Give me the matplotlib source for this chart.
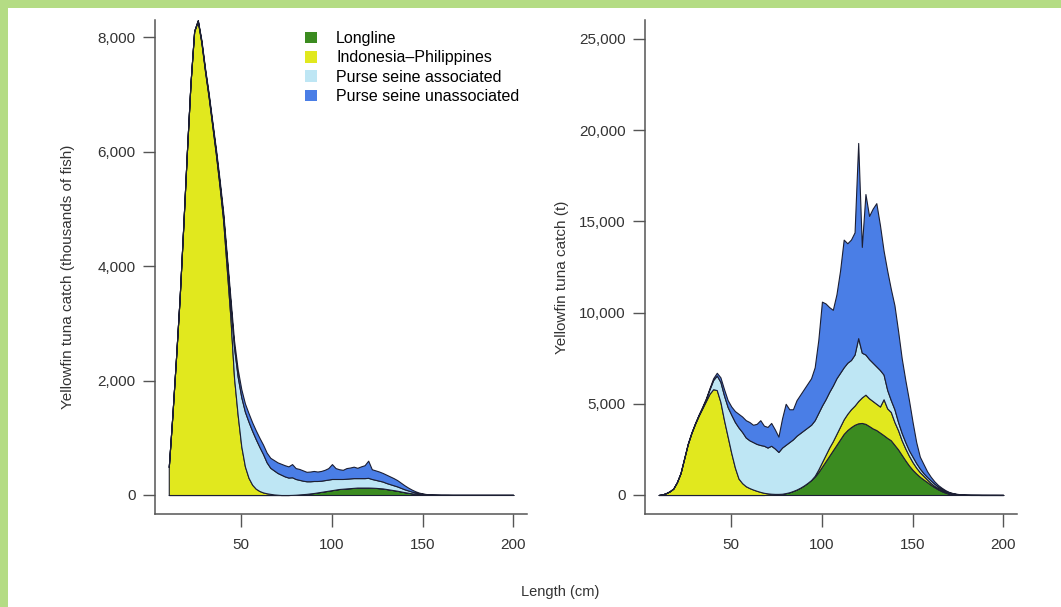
import numpy as np
import matplotlib.pyplot as plt
from matplotlib.patches import Patch, Rectangle
from matplotlib.ticker import FuncFormatter

plt.rcParams['font.family'] = ['Liberation Sans', 'DejaVu Sans']

# length bins (cm), 2 cm wide
length = np.arange(10, 202, 2)

# left panel: catch in thousands of fish
left_longline = [
    0, 0, 0, 0, 0, 0, 0, 0, 0, 0,
    0, 0, 0, 0, 0, 0, 0, 0, 0, 0,
    0, 0, 0, 0, 0, 0, 0, 0, 0, 0,
    0, 0, 0, 0, 2, 5, 10, 15, 20, 28,
    35, 45, 55, 65, 75, 85, 95, 105, 110, 115,
    120, 125, 130, 130, 130, 130, 128, 125, 120, 115,
    105, 95, 85, 75, 62, 50, 40, 30, 22, 16,
    11, 7, 5, 3, 2, 1, 1, 1, 1, 1,
    1, 1, 1, 1, 1, 1, 1, 1, 1, 1,
    1, 1, 1, 1, 1, 1]
left_indo = [
    490, 1400, 2400, 3450, 4700, 6000, 7200, 8100, 8280, 7900,
    7400, 6950, 6450, 5950, 5400, 4800, 3950, 3100, 2050, 1400,
    850, 500, 300, 180, 110, 70, 45, 30, 20, 10,
    5, 0, 0, 0, 0, 0, 0, 0, 0, 0,
    0, 0, 0, 0, 0, 0, 0, 0, 0, 0,
    0, 0, 0, 0, 0, 0, 0, 0, 0, 0,
    0, 0, 0, 0, 0, 0, 0, 0, 0, 0,
    0, 0, 0, 0, 0, 0, 0, 0, 0, 0,
    0, 0, 0, 0, 0, 0, 0, 0, 0, 0,
    0, 0, 0, 0, 0, 0]
left_assoc = [
    0, 0, 0, 0, 0, 0, 5, 5, 10, 25,
    30, 35, 40, 50, 60, 80, 170, 250, 530, 670,
    860, 955, 980, 940, 865, 770, 670, 540, 455, 420,
    380, 355, 325, 305, 308, 275, 255, 235, 220, 212,
    210, 200, 195, 195, 195, 195, 185, 175, 170, 170,
    170, 170, 165, 165, 165, 170, 152, 140, 130, 120,
    105, 95, 85, 75, 63, 50, 40, 30, 21, 14,
    9, 6, 3, 2, 1, 1, 1, 1, 0, 0,
    0, 0, 0, 0, 0, 0, 0, 0, 0, 0,
    0, 0, 0, 0, 0, 0]
left_unassoc = [
    0, 0, 0, 0, 0, 0, 5, 5, 10, 25,
    30, 35, 40, 50, 60, 70, 80, 100, 120, 130,
    140, 145, 150, 150, 155, 160, 165, 170, 175, 180,
    185, 190, 195, 195, 230, 190, 190, 180, 165, 170,
    175, 165, 170, 180, 200, 260, 190, 170, 160, 185,
    190, 200, 180, 205, 225, 300, 170, 165, 160, 150,
    145, 135, 125, 110, 90, 70, 50, 35, 22, 12,
    7, 4, 2, 1, 1, 1, 1, 0, 0, 0,
    0, 0, 0, 0, 0, 0, 0, 0, 0, 0,
    0, 0, 0, 0, 0, 0]

# right panel: catch in tonnes
right_longline = [
    0, 0, 0, 0, 0, 0, 0, 0, 0, 0,
    0, 0, 0, 0, 0, 0, 0, 0, 0, 0,
    0, 0, 0, 0, 0, 0, 0, 0, 0, 0,
    10, 20, 30, 40, 60, 100, 150, 220, 300, 400,
    520, 660, 820, 1000, 1250, 1550, 1850, 2150, 2450, 2750,
    3050, 3350, 3560, 3720, 3850, 3930, 3950, 3900, 3780, 3650,
    3560, 3420, 3280, 3130, 3000, 2750, 2500, 2200, 1900, 1620,
    1380, 1180, 1000, 850, 710, 560, 430, 310, 210, 130,
    70, 35, 20, 10, 5, 3, 2, 2, 2, 1,
    1, 1, 1, 1, 1, 1]
right_indo = [
    0, 30, 100, 200, 350, 700, 1200, 2000, 2800, 3400,
    3900, 4350, 4750, 5150, 5550, 5800, 5750, 5100, 4100, 3200,
    2300, 1500, 900, 650, 480, 380, 300, 230, 170, 120,
    80, 50, 30, 20, 10, 5, 0, 0, 0, 0,
    0, 0, 0, 50, 150, 250, 350, 450, 500, 600,
    700, 800, 890, 980, 1050, 1220, 1400, 1600, 1520, 1500,
    1440, 1430, 1970, 1620, 1550, 1250, 1050, 800, 650, 530,
    420, 320, 250, 200, 140, 100, 70, 70, 50, 40,
    20, 10, 5, 2, 1, 0, 0, 0, 0, 0,
    0, 0, 0, 0, 0, 0]
right_assoc = [
    0, 0, 0, 0, 0, 0, 0, 0, 0, 10,
    20, 30, 50, 100, 250, 500, 800, 1100, 1350, 1620,
    2100, 2500, 2800, 2800, 2670, 2620, 2600, 2570, 2570, 2580,
    2510, 2630, 2490, 2300, 2530, 2645, 2750, 2830, 2950, 3000,
    3030, 3040, 3030, 3050, 3100, 3100, 3050, 3050, 3050, 3050,
    2950, 2850, 2800, 2700, 2800, 3450, 2450, 2200, 2150, 2100,
    2050, 2000, 1350, 1010, 650, 700, 450, 400, 350, 300,
    300, 250, 200, 150, 140, 140, 120, 80, 70, 50,
    50, 45, 30, 23, 14, 9, 6, 5, 4, 3,
    3, 2, 2, 2, 1, 1]
right_unassoc = [
    0, 0, 0, 0, 0, 0, 0, 0, 0, 10,
    20, 30, 40, 50, 60, 100, 150, 250, 350, 380,
    450, 600, 750, 850, 950, 1000, 950, 1100, 1360, 1100,
    1130, 1250, 1050, 840, 1600, 2250, 1800, 1650, 1950, 2100,
    2250, 2400, 2550, 2900, 4000, 5700, 5250, 4650, 4150, 4600,
    5600, 7000, 6550, 6600, 6700, 10700, 5800, 8800, 7850, 8450,
    8950, 7950, 6800, 6540, 6100, 5700, 5000, 4100, 3400, 2750,
    1900, 1150, 650, 500, 310, 200, 130, 90, 70, 50,
    30, 20, 15, 10, 10, 8, 5, 4, 3, 3,
    2, 2, 2, 1, 1, 1]

series_labels = ['Longline', 'Indonesia\u2013Philippines',
                 'Purse seine associated', 'Purse seine unassociated']
colors = ['#3b8b20', '#e1e81e', '#bee6f4', '#4a7ee6']
edge = '#1c1f33'

left_yticks = [0, 2000, 4000, 6000, 8000]
right_yticks = [0, 5000, 10000, 15000, 20000, 25000]
xticks = [50, 100, 150, 200]

W, H = 1061, 607
fig = plt.figure(figsize=(W / 100, H / 100), dpi=100)
fig.patch.set_facecolor('white')

ax1 = fig.add_axes([155 / W, 1 - 514 / H, 372 / W, 494 / H])
ax2 = fig.add_axes([645 / W, 1 - 514 / H, 372 / W, 494 / H])

comma = FuncFormatter(lambda v, p: f'{int(v):,}')


def draw_panel(ax, data, yticks, ylim):
    ax.stackplot(length, *data, colors=colors, edgecolor=edge, linewidth=0.8)
    ax.set_xlim(2.4, 207.6)
    ax.set_ylim(*ylim)
    ax.set_xticks(xticks)
    ax.set_yticks(yticks)
    ax.yaxis.set_major_formatter(comma)
    for s in ['top', 'right']:
        ax.spines[s].set_visible(False)
    for s in ['left', 'bottom']:
        ax.spines[s].set_color('#555555')
        ax.spines[s].set_linewidth(1.1)
    ax.tick_params(axis='both', length=9, width=1.0, color='#555555',
                   labelsize=11, labelcolor='#333333')
    ax.tick_params(axis='x', pad=8)
    ax.tick_params(axis='y', pad=5)


draw_panel(ax1, [left_longline, left_indo, left_assoc, left_unassoc],
           left_yticks, (-332, 8300))
draw_panel(ax2, [right_longline, right_indo, right_assoc, right_unassoc],
           right_yticks, (-1042, 26040))

handles = [Patch(facecolor=c, edgecolor='none') for c in colors]
ax1.legend(handles, series_labels, loc='upper left',
           bbox_to_anchor=(305 / W, 1 - 31 / H), bbox_transform=fig.transFigure,
           frameon=False, fontsize=11.5, handlelength=0.75, handleheight=0.75,
           handletextpad=1.2, labelspacing=0.27, borderaxespad=0, borderpad=0)

fig.text(68 / W, 1 - 277 / H, 'Yellowfin tuna catch (thousands of fish)',
         rotation=90, ha='center', va='center', fontsize=11, color='#333333')
fig.text(562 / W, 1 - 277 / H, 'Yellowfin tuna catch (t)',
         rotation=90, ha='center', va='center', fontsize=11, color='#333333')
fig.text(560 / W, 1 - 592 / H, 'Length (cm)',
         ha='center', va='center', fontsize=10.5, color='#333333')

# light green frame at top and left
border = '#b4dc84'
fig.add_artist(Rectangle((0, 1 - 8 / H), 1, 8 / H, transform=fig.transFigure,
                         facecolor=border, edgecolor='none'))
fig.add_artist(Rectangle((0, 0), 8 / W, 1, transform=fig.transFigure,
                         facecolor=border, edgecolor='none'))

fig.savefig('out.png', dpi=100)
